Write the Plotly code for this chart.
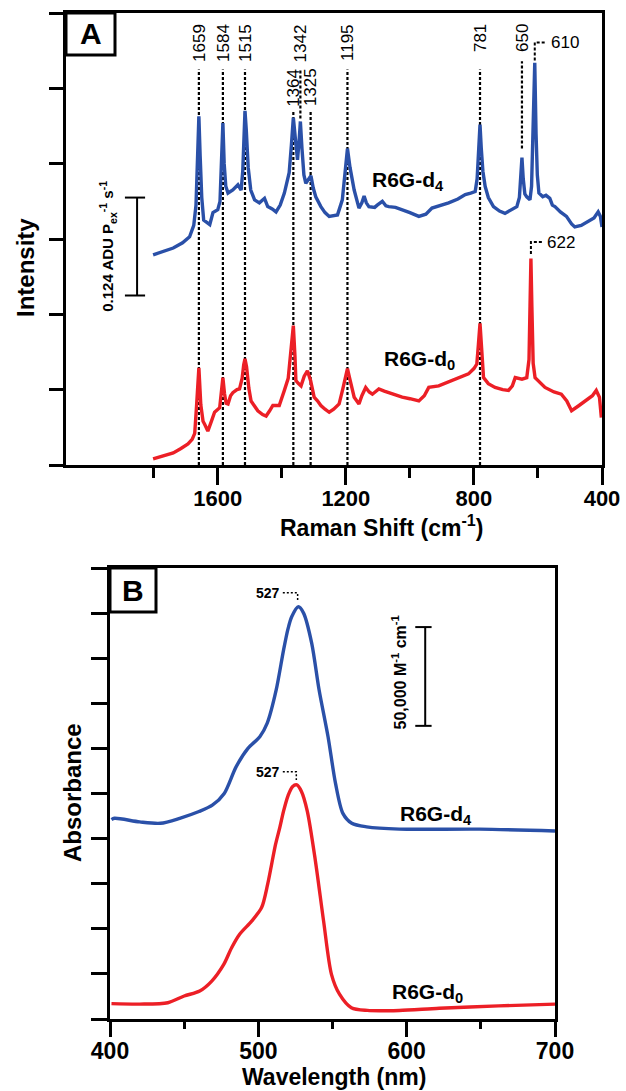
import plotly.graph_objects as go

# ---------------- Panel A: Raman (cm-1) ----------------
raman_d4_x = [1802, 1770, 1739, 1710, 1688, 1675, 1668, 1663, 1659, 1655, 1650, 1644, 1636, 1625, 1615, 1600,
              1593, 1588, 1584, 1580, 1575, 1568, 1553, 1537, 1527, 1522, 1518, 1515, 1511, 1505, 1497, 1485,
              1470, 1454, 1444, 1430, 1418, 1405, 1392, 1377, 1370, 1364, 1358, 1351, 1346, 1342, 1337, 1331,
              1325, 1316, 1309, 1302, 1294, 1278, 1265, 1252, 1238, 1226, 1211, 1203, 1195, 1187, 1174, 1159,
              1150, 1143, 1136, 1128, 1110, 1102, 1086, 1075, 1066, 1045, 1024, 1000, 972, 950, 931, 905, 879,
              850, 827, 810, 796, 790, 785, 781, 777, 772, 765, 755, 739, 720, 703, 685, 666, 658, 654, 650,
              646, 641, 635, 625, 620, 615, 610, 606, 602, 597, 585, 575, 563, 555, 547, 530, 511, 495, 485,
              465, 443, 425, 412, 405, 400]
raman_d4_y = [2.79, 2.84, 2.88, 2.95, 3.03, 3.18, 3.45, 4.10, 4.63, 4.10, 3.55, 3.25, 3.23, 3.19, 3.35, 3.39,
              3.50, 3.95, 4.54, 4.00, 3.70, 3.61, 3.65, 3.72, 3.65, 3.90, 4.40, 4.70, 4.45, 3.95, 3.65, 3.52,
              3.48, 3.54, 3.43, 3.40, 3.36, 3.45, 3.61, 3.88, 4.25, 4.61, 4.35, 4.05, 4.30, 4.56, 4.20, 3.85,
              3.74, 3.80, 3.84, 3.68, 3.56, 3.43, 3.35, 3.30, 3.31, 3.32, 3.52, 3.85, 4.20, 3.95, 3.65, 3.41,
              3.48, 3.57, 3.48, 3.43, 3.42, 3.45, 3.50, 3.44, 3.43, 3.42, 3.39, 3.35, 3.30, 3.33, 3.41, 3.44, 3.48,
              3.53, 3.59, 3.61, 3.63, 3.80, 4.20, 4.52, 4.20, 3.90, 3.70, 3.55, 3.43, 3.37, 3.34, 3.38, 3.43, 3.55, 3.85, 4.08,
              3.80, 3.60, 3.56, 3.52, 3.70, 4.40, 5.34, 4.40, 3.85, 3.61, 3.56, 3.58, 3.54, 3.45, 3.43, 3.36, 3.30, 3.20, 3.16,
              3.18, 3.23, 3.28, 3.36, 3.30, 3.16]

raman_d0_x = [1802, 1770, 1739, 1715, 1693, 1680, 1672, 1666, 1659, 1653, 1646, 1641, 1631, 1620, 1610, 1594,
              1589, 1584, 1579, 1574, 1568, 1560, 1553, 1540, 1532, 1524, 1519, 1515, 1510, 1503, 1496, 1485,
              1475, 1460, 1449, 1438, 1428, 1408, 1400, 1392, 1380, 1372, 1364, 1359, 1356, 1348, 1340, 1330,
              1320, 1310, 1299, 1288, 1278, 1265, 1252, 1238, 1221, 1210, 1202, 1195, 1188, 1181, 1174, 1159,
              1150, 1138, 1127, 1117, 1097, 1080, 1066, 1045, 1024, 1000, 972, 955, 941, 910, 879, 850, 817,
              800, 791, 786, 781, 776, 770, 755, 734, 710, 692, 680, 671, 650, 635, 628, 625, 622, 619, 615,
              609, 595, 578, 550, 527, 510, 495, 475, 454, 430, 418, 408, 402]
raman_d0_y = [0.08, 0.12, 0.16, 0.22, 0.28, 0.34, 0.42, 0.80, 1.29, 0.80, 0.58, 0.54, 0.45, 0.58, 0.70, 0.76,
              0.95, 1.16, 0.95, 0.82, 0.81, 0.92, 0.96, 1.00, 1.01, 1.15, 1.33, 1.41, 1.30, 1.02, 0.85, 0.78,
              0.72, 0.67, 0.65, 0.72, 0.79, 0.79, 0.88, 0.99, 1.15, 1.45, 1.85, 1.45, 1.12, 1.08, 1.05, 1.18,
              1.25, 1.12, 0.90, 0.85, 0.79, 0.74, 0.70, 0.74, 0.81, 1.00, 1.18, 1.28, 1.15, 1.00, 0.90, 0.81,
              0.92, 1.03, 0.97, 0.94, 1.01, 0.98, 0.96, 0.93, 0.90, 0.88, 0.85, 0.92, 1.03, 1.05, 1.10, 1.15, 1.21,
              1.28, 1.34, 1.60, 1.88, 1.55, 1.16, 1.08, 1.03, 1.00, 0.99, 1.05, 1.16, 1.14, 1.16, 1.40, 2.10, 2.74, 2.10, 1.35,
              1.16, 1.10, 1.03, 0.97, 0.94, 0.85, 0.72, 0.78, 0.85, 0.92, 0.99, 0.90, 0.63]

# marker lines (position on axis, label text, bottom, top, label top)
peak_pos = [1659, 1584, 1515, 1364, 1342, 1310, 1195, 781, 650]
peak_lbl = ["1659", "1584", "1515", "1364", "1342", "1325", "1195", "781", "650"]
peak_bot = [0, 0, 0, 0, 4.6, 0, 0, 0, 4.2]
peak_top = [5.25, 5.25, 5.25, 4.69, 5.25, 4.69, 5.25, 5.25, 5.36]
peak_lbl_y = [5.88, 5.88, 5.88, 5.29, 5.88, 5.29, 5.88, 5.88, 5.88]

# ---------------- Panel B: absorbance ----------------
wl_d4 = [401, 403, 420, 434, 447, 460, 469, 477, 485, 493, 501, 506, 512, 517, 520, 522.5, 527, 530.5,
         536, 541, 547, 552, 557, 563, 573, 595, 649, 700]
abs_d4 = [4.42, 4.45, 4.37, 4.34, 4.45, 4.60, 4.74, 5.00, 5.59, 6.00, 6.26, 6.56, 7.29, 8.18, 8.65, 8.92, 9.14, 9.00,
          8.33, 7.29, 6.26, 5.23, 4.56, 4.34, 4.26, 4.21, 4.21, 4.17]
wl_d0 = [401, 420, 439, 450, 460.5, 468.6, 476.7, 482, 487.4, 495.5, 502.2, 506.3, 511.6, 514.5, 517, 520, 523,
         526, 529, 533, 538.5, 544, 549.3, 554.7, 562.7, 573.5, 595, 622, 662, 700]
abs_d0 = [0.34, 0.33, 0.36, 0.51, 0.62, 0.84, 1.21, 1.58, 1.88, 2.17, 2.47, 2.99, 3.87, 4.25, 4.61, 4.95, 5.15,
          5.19, 5.05, 4.61, 3.50, 2.17, 0.99, 0.55, 0.25, 0.19, 0.19, 0.24, 0.29, 0.33]

raman_major = [1600, 1200, 800, 400]
raman_minor = [1800, 1400, 1000, 600]
wl_major = [400, 500, 600, 700]
wl_minor = [450, 550, 650]

BLUE = "#2a50a8"
RED = "#ec1f26"
FONT = "Liberation Sans, Arial, sans-serif"
W, H = 626, 1091


def fx(x):  # page pixel -> paper fraction
    return x / W


def fy(y):
    return 1 - y / H


fig = go.Figure()

# dashed marker lines
dx, dy = [], []
for p, b, t in zip(peak_pos, peak_bot, peak_top):
    dx += [p, p, None]
    dy += [b, t, None]
fig.add_trace(go.Scatter(x=dx, y=dy, mode="lines", xaxis="x", yaxis="y",
                         line=dict(color="black", width=2.2, dash="3px,2px"), hoverinfo="skip"))
# brackets 610 / 622
fig.add_trace(go.Scatter(x=[610, 610, 574, None, 622, 622, 587], y=[5.37, 5.61, 5.61, None, 2.80, 2.96, 2.96],
                         mode="lines", xaxis="x", yaxis="y",
                         line=dict(color="black", width=2, dash="3px,2px"), hoverinfo="skip"))

fig.add_trace(go.Scatter(x=raman_d4_x, y=raman_d4_y, mode="lines", xaxis="x", yaxis="y",
                         line=dict(color=BLUE, width=3.4)))
fig.add_trace(go.Scatter(x=raman_d0_x, y=raman_d0_y, mode="lines", xaxis="x", yaxis="y",
                         line=dict(color=RED, width=3.4)))

# panel B
fig.add_trace(go.Scatter(x=[516.5, 526.5, 526.5, None, 516.5, 525.6, 525.6],
                         y=[9.45, 9.45, 9.27, None, 5.48, 5.48, 5.30],
                         mode="lines", xaxis="x2", yaxis="y2",
                         line=dict(color="black", width=1.5, dash="2px,2px"), hoverinfo="skip"))
fig.add_trace(go.Scatter(x=wl_d4, y=abs_d4, mode="lines", xaxis="x2", yaxis="y2",
                         line=dict(color=BLUE, width=3.4, shape="spline", smoothing=0.8)))
fig.add_trace(go.Scatter(x=wl_d0, y=abs_d0, mode="lines", xaxis="x2", yaxis="y2",
                         line=dict(color=RED, width=3.4, shape="spline", smoothing=0.8)))

axis_common = dict(showgrid=False, zeroline=False, showline=True, linecolor="black", linewidth=3,
                   mirror=True, ticks="outside", tickcolor="black", tickwidth=3, automargin=False)

fig.update_layout(
    width=W, height=H, margin=dict(l=0, r=0, t=0, b=0, autoexpand=False),
    paper_bgcolor="white", plot_bgcolor="white", showlegend=False,
    font=dict(family=FONT, color="black"),
    xaxis=dict(domain=[fx(66), fx(602)], range=[2074, 400], anchor="y",
               tickvals=raman_major, ticklen=17,
               minor=dict(tickvals=raman_minor, ticklen=10, tickwidth=3, tickcolor="black", ticks="outside",
                          showgrid=False),
               tickfont=dict(size=22, family=FONT, weight="bold"), ticklabelstandoff=-5, **axis_common),
    yaxis=dict(domain=[fy(465), fy(13)], range=[0, 6], anchor="x",
               tickvals=[0, 1, 2, 3, 4, 5, 6], showticklabels=False, ticklen=14, **axis_common),
    xaxis2=dict(domain=[fx(110), fx(555)], range=[400, 700], anchor="y2",
                tickvals=wl_major, ticklen=15,
                minor=dict(tickvals=wl_minor, ticklen=7, tickwidth=3, tickcolor="black", ticks="outside",
                           showgrid=False),
                tickfont=dict(size=23, family=FONT, weight="bold"), ticklabelstandoff=-6, **axis_common),
    yaxis2=dict(domain=[fy(1019), fy(568)], range=[0, 10], anchor="x2",
                tickvals=list(range(11)), showticklabels=False, ticklen=16, **axis_common),
)

shapes = []
# panel label boxes
shapes.append(dict(type="rect", xref="x domain", yref="y domain", x0=0, x1=49 / 536, y0=1 - 42 / 452, y1=1,
                   line=dict(color="black", width=3), fillcolor="white"))
shapes.append(dict(type="rect", xref="x2 domain", yref="y2 domain", x0=0, x1=46 / 445, y0=1 - 44 / 451, y1=1,
                   line=dict(color="black", width=3), fillcolor="white"))
# scale bar A
for s in [dict(x0=1852, x1=1852, y0=2.25, y1=3.55), dict(x0=1890, x1=1827, y0=3.55, y1=3.55),
          dict(x0=1890, x1=1827, y0=2.25, y1=2.25)]:
    shapes.append(dict(type="line", xref="x", yref="y", line=dict(color="black", width=2), **s))
# scale bar B
for s in [dict(x0=612.5, x1=612.5, y0=6.50, y1=8.69), dict(x0=605.8, x1=616.8, y0=8.69, y1=8.69),
          dict(x0=605.8, x1=616.8, y0=6.50, y1=6.50)]:
    shapes.append(dict(type="line", xref="x2", yref="y2", line=dict(color="black", width=2), **s))
fig.update_layout(shapes=shapes)


def text(t, x, y, size, xref="paper", yref="paper", xa="center", ya="middle", angle=0):
    return dict(text=t, x=x, y=y, xref=xref, yref=yref, showarrow=False, textangle=angle,
                xanchor=xa, yanchor=ya, font=dict(size=size, family=FONT, color="black"))


ann = []
ann.append(text("<b>A</b>", 24.5 / 536, 1 - 21 / 452, 30, xref="x domain", yref="y domain"))
ann.append(text("<b>B</b>", 23 / 445, 1 - 22 / 451, 30, xref="x2 domain", yref="y2 domain"))
for p, lbl, ly in zip(peak_pos, peak_lbl, peak_lbl_y):
    ann.append(text(lbl, p, ly, 17, xref="x", yref="y", ya="top", angle=-90))
ann.append(text("610", 566, 5.61, 17, xref="x", yref="y", xa="left"))
ann.append(text("622", 578, 2.96, 17, xref="x", yref="y", xa="left"))
ann.append(text("<b>R6G-d<sub>4</sub></b>", fx(408), fy(181), 21))
ann.append(text("<b>R6G-d<sub>0</sub></b>", fx(419), fy(360), 21))
ann.append(text("<b>0.124 ADU P<sub>ex</sub><sup>-1</sup> s<sup>-1</sup></b>", 1943, 2.91, 15,
                xref="x", yref="y", angle=-90))
ann.append(text("<b>Intensity</b>", fx(25), fy(268), 24, angle=-90))
ann.append(text("<b>Raman Shift (cm<sup>-1</sup>)</b>", fx(381), fy(526), 23))
# panel B texts
ann.append(text("<b>527</b>", 516, 9.45, 14, xref="x2", yref="y2", xa="right"))
ann.append(text("<b>527</b>", 516, 5.48, 14, xref="x2", yref="y2", xa="right"))
ann.append(text("<b>50,000 M<sup>-1</sup> cm<sup>-1</sup></b>", 595, 7.69, 16, xref="x2", yref="y2", angle=-90))
ann.append(text("<b>R6G-d<sub>4</sub></b>", fx(436), fy(815), 21))
ann.append(text("<b>R6G-d<sub>0</sub></b>", fx(427), fy(993), 21))
ann.append(text("<b>Absorbance</b>", fx(72), fy(793), 24, angle=-90))
ann.append(text("<b>Wavelength (nm)</b>", fx(334), fy(1077), 23))
fig.update_layout(annotations=ann)

fig.write_html("out.html", config={"displayModeBar": False},
               post_script="document.body.style.margin='0px';")
